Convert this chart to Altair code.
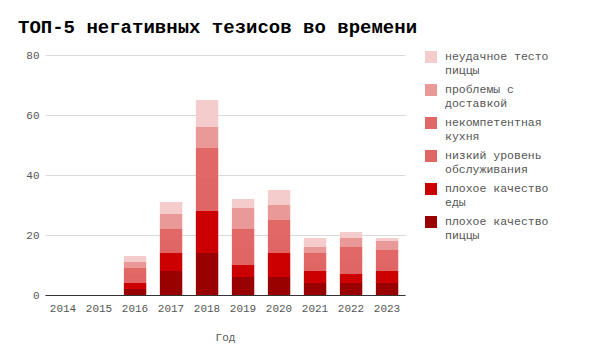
import altair as alt
import pandas as pd

years = ["2014", "2015", "2016", "2017", "2018", "2019", "2020", "2021", "2022", "2023"]

series_names = [
    "плохое качество\nпиццы",
    "плохое качество\nеды",
    "низкий уровень\nобслуживания",
    "некомпетентная\nкухня",
    "проблемы с\nдоставкой",
    "неудачное тесто\nпиццы",
]
series_colors = ["#990000", "#cc0000", "#e06666", "#e26868", "#ea9999", "#f4cccc"]

pizza_quality = [0, 0, 2, 8, 14, 6, 6, 4, 4, 4]
food_quality = [0, 0, 2, 6, 14, 4, 8, 4, 3, 4]
service_level = [0, 0, 3, 4, 11, 6, 6, 3, 5, 4]
kitchen = [0, 0, 2, 4, 10, 6, 5, 3, 4, 3]
delivery = [0, 0, 2, 5, 7, 7, 5, 2, 3, 3]
dough = [0, 0, 2, 4, 9, 3, 5, 3, 2, 1]

all_series = [pizza_quality, food_quality, service_level, kitchen, delivery, dough]

rows = []
for i, (name, vals) in enumerate(zip(series_names, all_series)):
    for y, v in zip(years, vals):
        rows.append({"Год": y, "series": name, "value": v, "order": i})
df = pd.DataFrame(rows)

font = "Liberation Mono"

chart = alt.Chart(df).mark_bar(cornerRadius=1).encode(
    x=alt.X("Год:N", scale=alt.Scale(domain=years, paddingInner=0.36, paddingOuter=0.18),
            axis=alt.Axis(labelAngle=0, ticks=False, domainColor="#333333", labelPadding=7,
                          titlePadding=18, grid=False)),
    y=alt.Y("value:Q", stack="zero", scale=alt.Scale(domain=[0, 80]),
            axis=alt.Axis(values=[0, 20, 40, 60, 80], title=None, domain=False, ticks=False,
                          labelPadding=6, gridColor="#d9d9d9")),
    color=alt.Color("series:N",
                    scale=alt.Scale(domain=series_names[::-1], range=series_colors[::-1]),
                    legend=alt.Legend(title=None, orient="none", legendX=380, legendY=-4,
                                      symbolType="square", symbolSize=144, symbolStrokeWidth=0,
                                      rowPadding=8, labelFont=font, labelFontSize=11.5,
                                      labelColor="#555555", labelLimit=200, labelOffset=8,
                                      labelExpr="split(datum.label, '\\n')")),
    order=alt.Order("order:Q", sort="ascending"),
).properties(
    width=360,
    height=240,
    autosize=alt.AutoSizeParams(type="none"),
    padding={"left": 37, "top": 47, "right": 177, "bottom": 58},
    title=alt.TitleParams("ТОП-5 негативных тезисов во времени", font=font, fontSize=19,
                          fontWeight="bold", color="#000000", anchor="start", frame="group",
                          dx=-27, offset=12),
).configure_axis(
    labelFont=font, labelFontSize=11, labelColor="#555555",
    titleFont=font, titleFontSize=11, titleColor="#555555", titleFontWeight="normal",
).configure_view(stroke=None)

chart.save("out.html", embed_options={"renderer": "svg", "actions": False})
